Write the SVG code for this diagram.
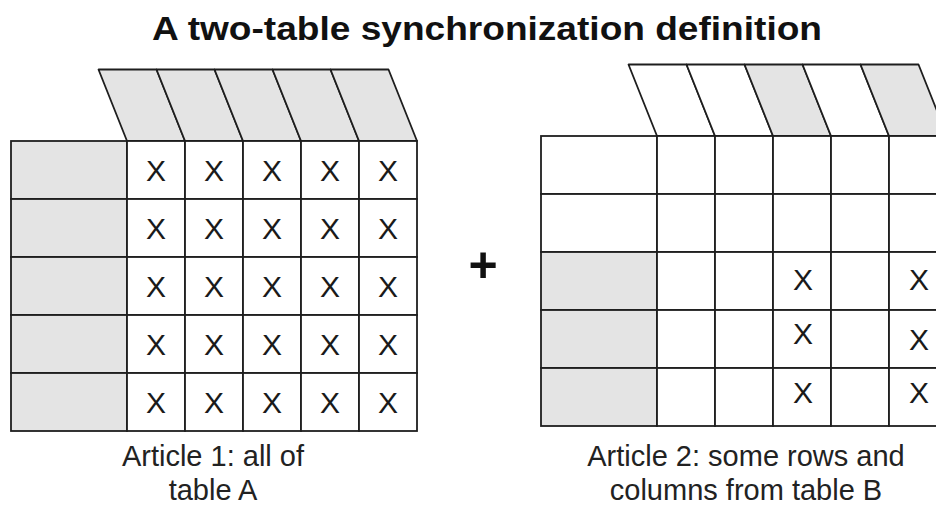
<svg xmlns="http://www.w3.org/2000/svg" width="936" height="510" viewBox="0 0 936 510">
<style>
  .bg{fill:#ffffff}
  .cell{fill:#ffffff;stroke:#1e1e1e;stroke-width:1.8}
  .shade{fill:#e4e4e4;stroke:#1e1e1e;stroke-width:1.8}
  .hdr{fill:#ffffff;stroke:#1e1e1e;stroke-width:1.8;stroke-linejoin:round}
  .hdrs{fill:#e4e4e4;stroke:#1e1e1e;stroke-width:1.8;stroke-linejoin:round}
  .x{font-family:"Liberation Sans",Arial,sans-serif;font-size:30px;fill:#1a1a1a;text-anchor:middle}
  .title{font-family:"Liberation Sans",Arial,sans-serif;font-size:33px;font-weight:bold;fill:#111}
  .cap{font-family:"Liberation Sans",Arial,sans-serif;font-size:29px;fill:#222;text-anchor:middle}
  .plus{font-family:"Liberation Sans",Arial,sans-serif;font-size:50px;font-weight:bold;fill:#111;text-anchor:middle}
</style>
<rect class="bg" x="0" y="0" width="936" height="510"/>

<g id="title">
  <text class="title" x="152" y="40" textLength="670" lengthAdjust="spacingAndGlyphs">A two-table synchronization definition</text>
</g>

<g id="tableA">
  <polygon class="hdrs" points="98.5,69.5 156.5,69.5 185,141 127,141"/>
  <polygon class="hdrs" points="156.5,69.5 214.5,69.5 243,141 185,141"/>
  <polygon class="hdrs" points="214.5,69.5 272.5,69.5 301,141 243,141"/>
  <polygon class="hdrs" points="272.5,69.5 330.5,69.5 359,141 301,141"/>
  <polygon class="hdrs" points="330.5,69.5 388.5,69.5 417,141 359,141"/>
  <rect class="shade" x="11" y="141" width="116" height="58"/>
  <rect class="shade" x="11" y="199" width="116" height="58"/>
  <rect class="shade" x="11" y="257" width="116" height="58"/>
  <rect class="shade" x="11" y="315" width="116" height="58"/>
  <rect class="shade" x="11" y="373" width="116" height="58"/>
  <g>
    <rect class="cell" x="127" y="141" width="58" height="58"/><rect class="cell" x="185" y="141" width="58" height="58"/><rect class="cell" x="243" y="141" width="58" height="58"/><rect class="cell" x="301" y="141" width="58" height="58"/><rect class="cell" x="359" y="141" width="58" height="58"/>
    <rect class="cell" x="127" y="199" width="58" height="58"/><rect class="cell" x="185" y="199" width="58" height="58"/><rect class="cell" x="243" y="199" width="58" height="58"/><rect class="cell" x="301" y="199" width="58" height="58"/><rect class="cell" x="359" y="199" width="58" height="58"/>
    <rect class="cell" x="127" y="257" width="58" height="58"/><rect class="cell" x="185" y="257" width="58" height="58"/><rect class="cell" x="243" y="257" width="58" height="58"/><rect class="cell" x="301" y="257" width="58" height="58"/><rect class="cell" x="359" y="257" width="58" height="58"/>
    <rect class="cell" x="127" y="315" width="58" height="58"/><rect class="cell" x="185" y="315" width="58" height="58"/><rect class="cell" x="243" y="315" width="58" height="58"/><rect class="cell" x="301" y="315" width="58" height="58"/><rect class="cell" x="359" y="315" width="58" height="58"/>
    <rect class="cell" x="127" y="373" width="58" height="58"/><rect class="cell" x="185" y="373" width="58" height="58"/><rect class="cell" x="243" y="373" width="58" height="58"/><rect class="cell" x="301" y="373" width="58" height="58"/><rect class="cell" x="359" y="373" width="58" height="58"/>
  </g>
  <g>
    <text class="x" x="156" y="181">X</text><text class="x" x="214" y="181">X</text><text class="x" x="272" y="181">X</text><text class="x" x="330" y="181">X</text><text class="x" x="388" y="181">X</text>
    <text class="x" x="156" y="239">X</text><text class="x" x="214" y="239">X</text><text class="x" x="272" y="239">X</text><text class="x" x="330" y="239">X</text><text class="x" x="388" y="239">X</text>
    <text class="x" x="156" y="297">X</text><text class="x" x="214" y="297">X</text><text class="x" x="272" y="297">X</text><text class="x" x="330" y="297">X</text><text class="x" x="388" y="297">X</text>
    <text class="x" x="156" y="355">X</text><text class="x" x="214" y="355">X</text><text class="x" x="272" y="355">X</text><text class="x" x="330" y="355">X</text><text class="x" x="388" y="355">X</text>
    <text class="x" x="156" y="413">X</text><text class="x" x="214" y="413">X</text><text class="x" x="272" y="413">X</text><text class="x" x="330" y="413">X</text><text class="x" x="388" y="413">X</text>
  </g>
</g>

<g id="plus">
  <text class="plus" x="483" y="282">+</text>
</g>

<g id="tableB">
  <polygon class="hdr" points="628.5,64.5 686.5,64.5 715,136 657,136"/>
  <polygon class="hdr" points="686.5,64.5 744.5,64.5 773,136 715,136"/>
  <polygon class="hdrs" points="744.5,64.5 802.5,64.5 831,136 773,136"/>
  <polygon class="hdr" points="802.5,64.5 860.5,64.5 889,136 831,136"/>
  <polygon class="hdrs" points="860.5,64.5 918.5,64.5 947,136 889,136"/>
  <rect class="cell" x="541" y="136" width="116" height="58"/>
  <rect class="cell" x="541" y="194" width="116" height="58"/>
  <rect class="shade" x="541" y="252" width="116" height="58"/>
  <rect class="shade" x="541" y="310" width="116" height="58"/>
  <rect class="shade" x="541" y="368" width="116" height="58"/>
  <g>
    <rect class="cell" x="657" y="136" width="58" height="58"/><rect class="cell" x="715" y="136" width="58" height="58"/><rect class="cell" x="773" y="136" width="58" height="58"/><rect class="cell" x="831" y="136" width="58" height="58"/><rect class="cell" x="889" y="136" width="58" height="58"/>
    <rect class="cell" x="657" y="194" width="58" height="58"/><rect class="cell" x="715" y="194" width="58" height="58"/><rect class="cell" x="773" y="194" width="58" height="58"/><rect class="cell" x="831" y="194" width="58" height="58"/><rect class="cell" x="889" y="194" width="58" height="58"/>
    <rect class="cell" x="657" y="252" width="58" height="58"/><rect class="cell" x="715" y="252" width="58" height="58"/><rect class="cell" x="773" y="252" width="58" height="58"/><rect class="cell" x="831" y="252" width="58" height="58"/><rect class="cell" x="889" y="252" width="58" height="58"/>
    <rect class="cell" x="657" y="310" width="58" height="58"/><rect class="cell" x="715" y="310" width="58" height="58"/><rect class="cell" x="773" y="310" width="58" height="58"/><rect class="cell" x="831" y="310" width="58" height="58"/><rect class="cell" x="889" y="310" width="58" height="58"/>
    <rect class="cell" x="657" y="368" width="58" height="58"/><rect class="cell" x="715" y="368" width="58" height="58"/><rect class="cell" x="773" y="368" width="58" height="58"/><rect class="cell" x="831" y="368" width="58" height="58"/><rect class="cell" x="889" y="368" width="58" height="58"/>
  </g>
  <g>
    <text class="x" x="803" y="290">X</text><text class="x" x="919" y="290">X</text>
    <text class="x" x="803" y="344">X</text><text class="x" x="919" y="350">X</text>
    <text class="x" x="803" y="403">X</text><text class="x" x="919" y="403">X</text>
  </g>
</g>

<g id="captionA">
  <text class="cap" x="213" y="466">Article 1: all of</text>
  <text class="cap" x="213" y="500">table A</text>
</g>

<g id="captionB">
  <text class="cap" x="746" y="466">Article 2: some rows and</text>
  <text class="cap" x="746" y="500">columns from table B</text>
</g>
</svg>
